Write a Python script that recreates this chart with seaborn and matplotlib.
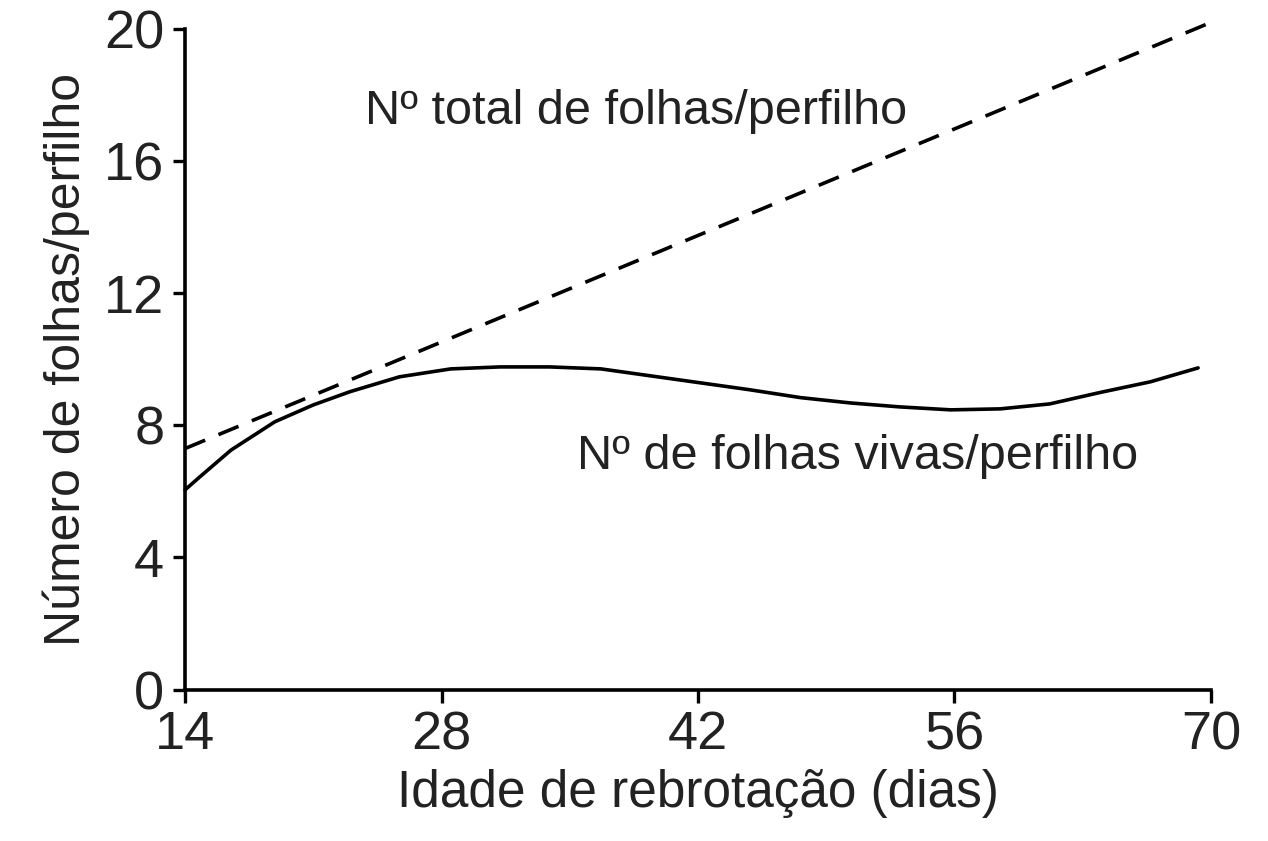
import matplotlib
matplotlib.use("Agg")
import matplotlib.pyplot as plt
import seaborn as sns
import pandas as pd

# Idade de rebrotação (dias) e nº de folhas vivas/perfilho
dias_vivas = [14, 14.8, 16.5, 18.9, 21, 23.0, 25.7, 28.5, 31.2, 33.9, 36.7, 39.4, 42.1,
              44.8, 47.6, 50.3, 53.0, 55.8, 58.5, 61.2, 63.9, 66.7, 69.3]
folhas_vivas = [6.05, 6.44, 7.25, 8.11, 8.62, 9.02, 9.47, 9.71, 9.77, 9.77, 9.71, 9.50, 9.29,
                9.08, 8.84, 8.68, 8.56, 8.47, 8.50, 8.65, 8.99, 9.32, 9.74]

# Nº total de folhas/perfilho (reta)
dias_total = [14, 70]
folhas_total = [7.3, 20.2]

x_ticks = [14, 28, 42, 56, 70]
y_ticks = [0, 4, 8, 12, 16, 20]

TEXT_COLOR = "#222222"

sns.set_theme(style="ticks")
plt.rcParams["font.family"] = ["Liberation Sans", "DejaVu Sans"]

df_vivas = pd.DataFrame({"dias": dias_vivas, "folhas": folhas_vivas})
df_total = pd.DataFrame({"dias": dias_total, "folhas": folhas_total})

fig = plt.figure(figsize=(12.68, 8.41), dpi=100)
ax = fig.add_axes([0.146, 0.18, 0.809, 0.7855])

sns.lineplot(data=df_vivas, x="dias", y="folhas", color="black", linewidth=2.6, ax=ax)
sns.lineplot(data=df_total, x="dias", y="folhas", color="black", linewidth=2.6, ax=ax)
ax.lines[0].set_solid_joinstyle("round")
ax.lines[0].set_solid_capstyle("round")
ax.lines[1].set_dashes((6, 4))

ax.set_xlim(14, 70)
ax.set_ylim(0, 20)
ax.set_xticks(x_ticks)
ax.set_yticks(y_ticks)

ax.set_xlabel("Idade de rebrotação (dias)", fontsize=37, color=TEXT_COLOR, labelpad=6)
ax.set_ylabel("Número de folhas/perfilho", fontsize=36, color=TEXT_COLOR, labelpad=10)
ax.tick_params(axis="both", labelsize=39, colors="black", labelcolor=TEXT_COLOR,
               width=2.4, length=9, direction="out", pad=6)

for side in ["top", "right"]:
    ax.spines[side].set_visible(False)
for side in ["left", "bottom"]:
    ax.spines[side].set_linewidth(2.6)
    ax.spines[side].set_color("black")
for ln in ax.lines:
    ln.set_clip_on(False)

ax.text(38.6, 17.5, "Nº total de folhas/perfilho", fontsize=35, color=TEXT_COLOR,
        ha="center", va="center")
ax.text(50.7, 7.05, "Nº de folhas vivas/perfilho", fontsize=35, color=TEXT_COLOR,
        ha="center", va="center")

fig.savefig("out.png", dpi=100, facecolor="white")
